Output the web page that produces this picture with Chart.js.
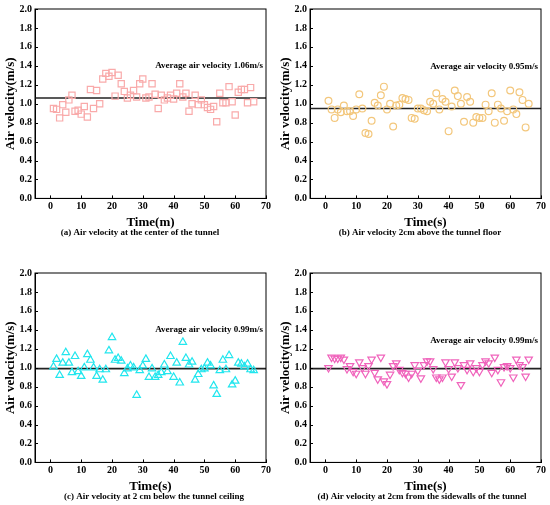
<!DOCTYPE html>
<html>
<head>
<meta charset="utf-8">
<script src="https://cdn.jsdelivr.net/npm/chart.js@4.4.1/dist/chart.umd.min.js"></script>
<style>
  body { margin: 0; background: #fff; width: 550px; height: 505px; position: relative; overflow: hidden; }
  canvas { position: absolute; }
</style>
</head>
<body>
<canvas id="chartA" width="275" height="250" style="left:0;top:0"></canvas>
<canvas id="chartB" width="275" height="250" style="left:275px;top:0"></canvas>
<canvas id="chartC" width="275" height="255" style="left:0;top:250px"></canvas>
<canvas id="chartD" width="275" height="255" style="left:275px;top:250px"></canvas>
<script>
// Data
const times = [1, 2, 3, 4, 5, 6, 7, 8, 9, 10, 11, 12, 13, 14, 15, 16, 17, 18, 19, 20, 21, 22,
  23, 24, 25, 26, 27, 28, 29, 30, 31, 32, 33, 34, 35, 36, 37, 38, 39, 40, 41, 42, 43, 44,
  45, 46, 47, 48, 49, 50, 51, 52, 53, 54, 55, 56, 57, 58, 59, 60, 61, 62, 63, 64, 65, 66];

const centerVel = [0.95, 0.94, 0.85, 0.99, 0.91, 1.04, 1.09, 0.92, 0.93, 0.89, 0.97, 0.86, 1.15, 0.95,
  1.14, 1.00, 1.26, 1.32, 1.29, 1.33, 1.08, 1.30, 1.21, 1.13, 1.06, 1.09, 1.14, 1.07, 1.21, 1.26,
  1.06, 1.07, 1.21, 1.10, 0.95, 1.09, 1.04, 1.06, 1.09, 1.05, 1.11, 1.21, 1.07, 1.11, 0.92, 1.00,
  1.09, 0.99, 1.04, 0.99, 0.96, 0.94, 0.97, 0.81, 1.11, 1.01, 1.01, 1.18, 1.02, 0.88, 1.12, 1.15,
  1.15, 1.01, 1.17, 1.02];

const floorVel = [1.03, 0.94, 0.85, 0.94, 0.91, 0.98, 0.92, 0.92, 0.87, 0.94, 1.10, 0.95, 0.69, 0.68,
  0.82, 1.01, 0.98, 1.09, 1.18, 0.94, 1.00, 0.76, 0.98, 0.99, 1.06, 1.05, 1.04, 0.85, 0.84, 0.95,
  0.95, 0.93, 0.92, 1.02, 1.00, 1.11, 0.94, 1.05, 1.02, 0.71, 0.97, 1.14, 1.08, 1.00, 0.81, 1.07,
  1.02, 0.80, 0.86, 0.85, 0.85, 0.99, 0.92, 1.11, 0.80, 0.99, 0.95, 0.82, 0.92, 1.14, 0.94, 0.89,
  1.12, 1.04, 0.75, 1.00];

const ceilingVel = [1.01, 1.09, 0.92, 1.05, 1.16, 1.05, 0.95, 1.12, 0.96, 0.91, 1.00, 1.14, 1.08, 1.00,
  0.91, 0.98, 0.87, 0.98, 1.18, 1.32, 1.08, 1.10, 1.07, 0.94, 0.99, 1.02, 1.00, 0.71, 0.97, 1.02,
  1.09, 0.90, 0.99, 0.90, 0.92, 0.95, 1.03, 0.96, 1.12, 0.90, 1.05, 0.84, 1.27, 1.10, 1.03, 1.06,
  0.87, 0.93, 0.98, 0.99, 1.05, 1.02, 0.81, 0.72, 0.97, 1.08, 0.98, 1.13, 0.82, 0.86, 1.05, 1.04,
  1.01, 1.04, 0.98, 0.97];

const sidewallVel = [1.00, 1.11, 1.10, 1.10, 1.11, 1.09, 0.99, 1.02, 0.96, 0.94, 1.06, 1.00, 0.94, 1.02,
  1.09, 0.95, 0.88, 1.11, 0.86, 0.83, 0.93, 1.02, 1.05, 0.98, 0.95, 0.94, 0.90, 0.94, 1.03, 0.97,
  0.89, 1.03, 1.07, 1.07, 0.99, 0.90, 0.88, 0.90, 1.06, 0.99, 0.91, 1.06, 1.00, 0.82, 1.03, 0.98,
  1.05, 0.96, 1.00, 0.96, 1.03, 1.07, 1.05, 0.95, 1.11, 0.98, 0.85, 1.01, 1.02, 1.00, 0.90, 1.09,
  1.03, 1.01, 0.91, 1.09];

const averages = [1.06, 0.95, 0.99, 0.99];
const xTitles = ['Time(m)', 'Time(s)', 'Time(s)', 'Time(s)'];
const captions = [
  '(a) Air velocity at the center of the tunnel',
  '(b) Air velocity 2cm above the tunnel floor',
  '(c) Air velocity at 2 cm below the tunnel ceiling',
  '(d) Air velocity at 2cm from the sidewalls of the tunnel'
];
const xTicks = [0, 10, 20, 30, 40, 50, 60, 70];
const yTicks = [0, 0.2, 0.4, 0.6, 0.8, 1.0, 1.2, 1.4, 1.6, 1.8, 2.0];

Chart.defaults.font.family = "'Liberation Serif', 'Times New Roman', serif";
Chart.defaults.font.weight = 'bold';
Chart.defaults.color = '#000';

// frame, inward ticks, average label and caption
const framePlugin = {
  id: 'frame',
  afterDraw(chart) {
    const { ctx, chartArea: a, scales } = chart;
    const opts = chart.options.plugins.frame;
    ctx.save();
    ctx.strokeStyle = '#000';
    ctx.lineWidth = 1;
    ctx.strokeRect(a.left, a.top, a.right - a.left, a.bottom - a.top);

    ctx.beginPath();
    xTicks.forEach(v => {
      const px = Math.round(scales.x.getPixelForValue(v)) + 0.5;
      ctx.moveTo(px, a.bottom);
      ctx.lineTo(px, a.bottom - 3);
    });
    yTicks.forEach(v => {
      const py = Math.round(scales.y.getPixelForValue(v)) + 0.5;
      ctx.moveTo(a.left, py);
      ctx.lineTo(a.left + 3, py);
    });
    ctx.stroke();

    ctx.fillStyle = '#000';
    ctx.textBaseline = 'middle';
    ctx.font = "bold 9px 'Liberation Serif'";
    ctx.textAlign = 'right';
    ctx.fillText(opts.label, a.right - 3, scales.y.getPixelForValue(opts.labelY));

    ctx.textAlign = 'center';
    ctx.fillText(opts.caption, opts.captionX, opts.captionY);
    ctx.restore();
  }
};

function makePanel(id, values, i, style) {
  const pts = times.map((t, k) => ({ x: t, y: values[k] }));
  new Chart(document.getElementById(id), {
    type: 'scatter',
    data: {
      datasets: [
        {
          data: pts,
          pointStyle: style.shape,
          rotation: style.rotation || 0,
          pointRadius: style.radius,
          pointHoverRadius: style.radius,
          pointBorderColor: style.color,
          pointBackgroundColor: 'rgba(0,0,0,0)',
          pointBorderWidth: 1.2
        },
        {
          type: 'line',
          data: [{ x: -5, y: averages[i] }, { x: 70, y: averages[i] }],
          borderColor: '#222',
          borderWidth: 1.6,
          pointRadius: 0
        }
      ]
    },
    options: {
      responsive: false,
      animation: false,
      events: [],
      layout: { padding: style.padding },
      plugins: {
        legend: { display: false },
        tooltip: { enabled: false },
        frame: {
          label: 'Average air velocity ' + averages[i].toFixed(2) + 'm/s',
          labelY: style.labelY,
          caption: captions[i],
          captionX: style.captionX,
          captionY: style.captionY
        }
      },
      scales: {
        x: {
          type: 'linear',
          min: -5,
          max: 70,
          afterBuildTicks: s => { s.ticks = xTicks.map(v => ({ value: v })); },
          ticks: { font: { size: 10 }, padding: 2, maxRotation: 0 },
          grid: { display: false, drawTicks: false },
          border: { color: '#000' },
          title: { display: true, text: xTitles[i], font: { size: 13 }, padding: { top: 0, bottom: 0 } }
        },
        y: {
          min: 0,
          max: 2,
          afterBuildTicks: s => { s.ticks = yTicks.map(v => ({ value: v })); },
          afterFit: s => { s.width = 35 - style.padding.left; },
          ticks: { font: { size: 10 }, padding: 3, callback: v => v.toFixed(1) },
          grid: { display: false, drawTicks: false },
          border: { color: '#000' },
          title: { display: true, text: 'Air velocity(m/s)', font: { size: 13 }, padding: 0 }
        }
      }
    },
    plugins: [framePlugin]
  });
}

makePanel('chartA', centerVel, 0, { shape: 'rect', radius: 4.4, color: '#F9AAAA', labelY: 1.4,
  captionX: 140, captionY: 233, padding: { left: 3, right: 9, top: 7, bottom: 20 } });
makePanel('chartB', floorVel, 1, { shape: 'circle', radius: 3.4, color: '#F3C77C', labelY: 1.39,
  captionX: 145, captionY: 233, padding: { left: 3, right: 9, top: 7, bottom: 20 } });
makePanel('chartC', ceilingVel, 2, { shape: 'triangle', radius: 4.3, color: '#22E6EE', labelY: 1.4,
  captionX: 154, captionY: 247, padding: { left: 3, right: 9, top: 23, bottom: 11 } });
makePanel('chartD', sidewallVel, 3, { shape: 'triangle', rotation: 180, radius: 4.3, color: '#F064BC', labelY: 1.29,
  captionX: 147, captionY: 247, padding: { left: 3, right: 9, top: 23, bottom: 11 } });
</script>
</body>
</html>
